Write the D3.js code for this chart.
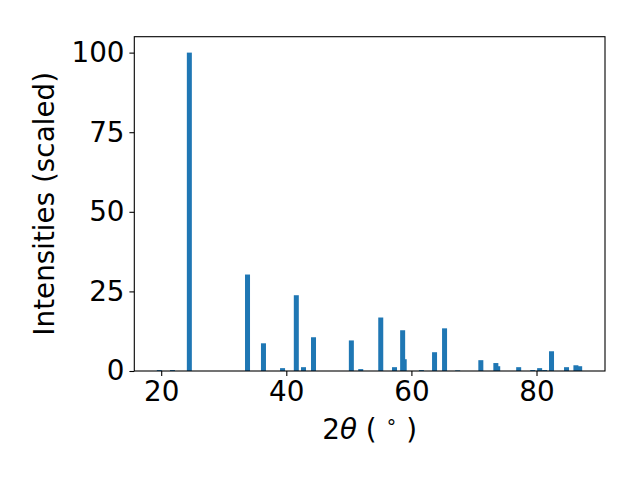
<!DOCTYPE html>
<html>
<head>
<meta charset="utf-8">
<script src="https://cdn.jsdelivr.net/npm/d3@7"></script>
<style>
  html, body { margin: 0; padding: 0; background: #fff; }
  svg { display: block; }
</style>
</head>
<body>
<div id="chart"></div>
<script>
// peak positions (2theta, degrees) and scaled intensities
const twoTheta = [19.7, 21.8, 24.5, 33.8, 36.35, 39.4, 41.6, 42.75, 44.35,
  50.4, 51.9, 55.1, 57.3, 58.85, 58.6, 61.6, 63.7, 65.3, 67.4, 71.1,
  73.5, 73.8, 77.15, 79.4, 80.5, 81.3, 82.4, 84.8, 86.3, 86.9];
const intensity = [0.3, 0.3, 100, 30.3, 8.7, 0.9, 23.8, 1.2, 10.6,
  9.6, 0.6, 16.8, 1.2, 3.7, 12.8, 0.3, 5.9, 13.4, 0.2, 3.4,
  2.5, 1.5, 1.2, 0.3, 0.9, 0.3, 6.2, 1.2, 1.8, 1.5];
const xTicks = [20, 40, 60, 80];
const yTicks = [0, 25, 50, 75, 100];
const barWidth = 0.8;

const width = 640, height = 480;
const margin = { left: 134.3, right: 35, top: 36.7, bottom: 109 };
const font = "'DejaVu Sans', sans-serif";
const fs = 27.8;

const data = twoTheta.map((t, i) => ({ t, v: intensity[i] }));

const x = d3.scaleLinear()
  .domain([15.7, 90.95])
  .range([margin.left, width - margin.right]);

const y = d3.scaleLinear()
  .domain([0, 105])
  .range([height - margin.bottom, margin.top]);

const svg = d3.select("#chart")
  .append("svg")
  .attr("width", width)
  .attr("height", height);

// bars
svg.append("g")
  .selectAll("rect")
  .data(data)
  .join("rect")
  .attr("x", (d) => x(d.t - barWidth / 2))
  .attr("width", (d) => x(d.t + barWidth / 2) - x(d.t - barWidth / 2))
  .attr("y", (d) => y(d.v))
  .attr("height", (d) => y(0) - y(d.v))
  .attr("fill", "#1f77b4");

// axes
const xAxis = svg.append("g")
  .attr("transform", `translate(0,${height - margin.bottom})`)
  .call(d3.axisBottom(x).tickValues(xTicks).tickSize(4.9).tickPadding(4.9));

const yAxis = svg.append("g")
  .attr("transform", `translate(${margin.left},0)`)
  .call(d3.axisLeft(y).tickValues(yTicks).tickSize(4.9).tickPadding(4.9));

[xAxis, yAxis].forEach((g) => {
  g.select(".domain").remove();
  g.selectAll(".tick line").attr("stroke", "#000").attr("stroke-width", 1.1);
  g.selectAll(".tick text")
    .attr("fill", "#000")
    .style("font-family", font)
    .style("font-size", fs + "px");
});

// frame
svg.append("rect")
  .attr("x", margin.left)
  .attr("y", margin.top)
  .attr("width", width - margin.right - margin.left)
  .attr("height", height - margin.bottom - margin.top)
  .attr("fill", "none")
  .attr("stroke", "#000")
  .attr("stroke-width", 1.1);

// labels
const xl = svg.append("text")
  .attr("x", (margin.left + width - margin.right) / 2)
  .attr("y", 439)
  .attr("text-anchor", "middle")
  .style("font-family", font)
  .style("font-size", fs + "px");
xl.append("tspan").text("2");
xl.append("tspan").style("font-style", "italic").text("θ");
xl.append("tspan").text(" ( ");
xl.append("tspan").attr("dy", -11).style("font-size", "19px").text("∘");
xl.append("tspan").attr("dy", 11).text(" )");

svg.append("text")
  .attr("transform", `translate(54,${(margin.top + height - margin.bottom) / 2}) rotate(-90)`)
  .attr("text-anchor", "middle")
  .style("font-family", font)
  .style("font-size", fs + "px")
  .text("Intensities (scaled)");
</script>
</body>
</html>
